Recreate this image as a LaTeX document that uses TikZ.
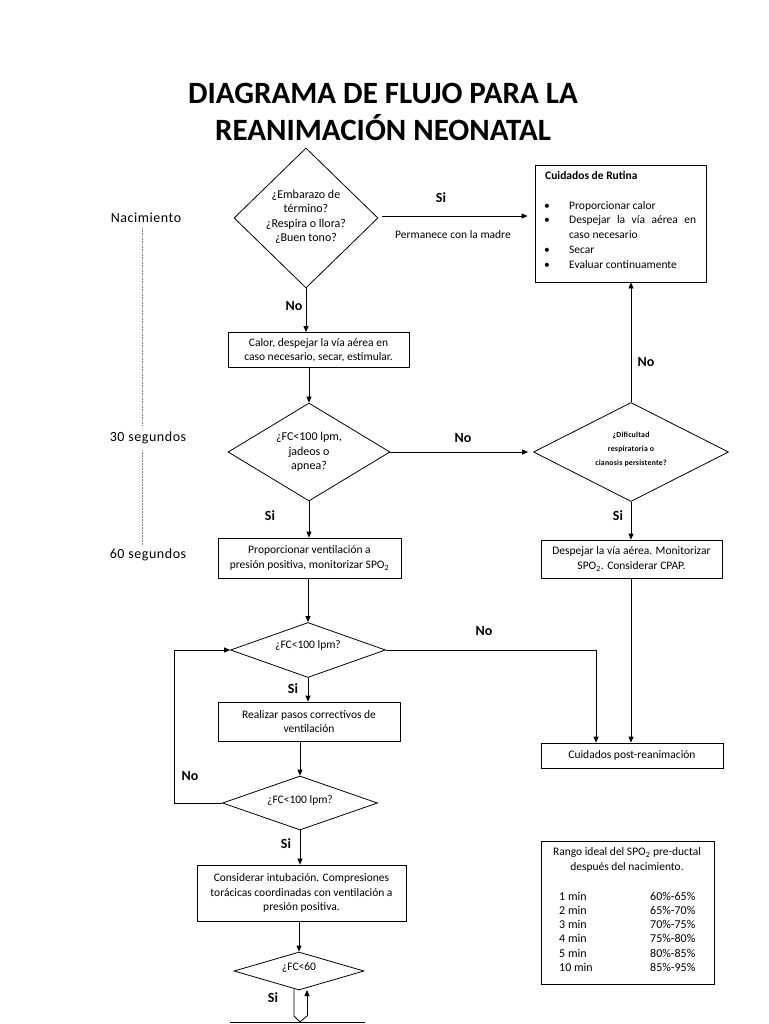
\documentclass[tikz,border=0pt]{standalone}
\usepackage{fontspec}
\setmainfont{Carlito}
\usetikzlibrary{shapes.geometric,arrows.meta}
\begin{document}
\begin{tikzpicture}[x=1pt,y=-1pt,
  box/.style={draw, line width=0.8pt, inner sep=0pt, align=center, font=\fontsize{11.5}{14.5}\selectfont},
  dia/.style={draw, diamond, line width=0.8pt, inner sep=0pt},
  arr/.style={line width=0.8pt, -{Triangle[length=6pt,width=5pt]}},
  ln/.style={line width=0.8pt},
  lab/.style={font=\fontsize{14}{16}\selectfont\bfseries, inner sep=0pt},
  txt/.style={font=\fontsize{12}{14.5}\selectfont, align=center, inner sep=0pt},
  side/.style={font=\fontsize{14}{16}\selectfont\addfontfeature{LetterSpace=4}, inner sep=0pt},
  item/.style={font=\fontsize{11.5}{14.5}\selectfont, anchor=base west, inner sep=0pt},
  titem/.style={font=\fontsize{12}{14.5}\selectfont, anchor=base west, inner sep=0pt},
  dots/.style={gray, line width=0.6pt, dash pattern=on 0.8pt off 0.8pt},
]
\useasboundingbox (0,0) rectangle (768,1024);

% title
\node[font=\fontsize{31}{37}\selectfont\bfseries, align=center, inner sep=0pt] (title) at (383,112)
  {DIAGRAMA DE FLUJO PARA LA\\REANIMACIÓN NEONATAL};

% side labels
\node[side] (nac) at (146,218) {Nacimiento};
\node[side] (s30) at (148,438) {30 segundos};
\node[side] (s60) at (148,555) {60 segundos};
\coordinate (dA) at (142,228);
\coordinate (dB) at (142,425);
\coordinate (dC) at (142,450);
\coordinate (dD) at (142,545);
\draw[dots] (dA) -- (dB);
\draw[dots] (dC) -- (dD);

% diamonds
\node[dia, minimum width=144pt, minimum height=140pt] (d1) at (306,218) {};
\node[txt] (d1t) at (306,217) {¿Embarazo de\\término?\\¿Respira o llora?\\¿Buen tono?};
\node[dia, minimum width=162pt, minimum height=98pt] (d2) at (309,452) {};
\node[txt] (d2t) at (309,452) {¿FC<100 lpm,\\jadeos o\\apnea?};
\node[dia, minimum width=195pt, minimum height=99pt] (d3) at (631,452) {};
\node[txt, font=\fontsize{7.8}{14}\selectfont\bfseries\addfontfeature{LetterSpace=3}] (d3t) at (631,449) {¿Dificultad\\respiratoria o\\cianosis persistente?};
\node[dia, minimum width=155pt, minimum height=55pt] (d4) at (308,650) {};
\node[txt, font=\fontsize{11.5}{14.5}\selectfont] (d4t) at (308,645) {¿FC<100 lpm?};
\node[dia, minimum width=155pt, minimum height=54pt] (d5) at (300,803) {};
\node[txt, font=\fontsize{11.5}{14.5}\selectfont] (d5t) at (300,800) {¿FC<100 lpm?};
\node[dia, minimum width=130pt, minimum height=38pt] (d6) at (299,971) {};
\node[txt, font=\fontsize{11.5}{14.5}\selectfont] (d6t) at (299,968) {¿FC<60};

% boxes
\node[box, minimum width=181pt, minimum height=35pt] (b1) at (318.5,350)
  {Calor, despejar la vía aérea en\\caso necesario, secar, estimular.};
\node[box, minimum width=183pt, minimum height=40pt] (b2) at (309.5,558)
  {Proporcionar ventilación a\\presión positiva, monitorizar SPO\textsubscript{2}};
\node[box, minimum width=182pt, minimum height=39pt] (b3) at (309,721.5)
  {Realizar pasos correctivos de\\ventilación};
\node[box, minimum width=209pt, minimum height=56pt] (b4) at (301.5,893)
  {Considerar intubación. Compresiones\\torácicas coordinadas con ventilación a\\presión positiva.};
\node[box, minimum width=181pt, minimum height=38pt] (bD) at (631.5,559)
  {Despejar la vía aérea. Monitorizar\\SPO\textsubscript{2}. Considerar CPAP.};
\node[box, minimum width=182pt, minimum height=25pt] (bP) at (632,755.5)
  {Cuidados post-reanimación};

% Cuidados de Rutina
\node[box, minimum width=171pt, minimum height=117pt] (bR) at (620.5,223.5) {};
\node[item, font=\fontsize{11.5}{14.5}\selectfont\bfseries] (rt) at (545,180) {Cuidados de Rutina};
\node[item] (r1b) at (544,210) {\textbullet};
\node[item] (r1) at (569,210) {Proporcionar calor};
\node[item] (r2b) at (544,224) {\textbullet};
\node[item] (r2) at (569,224) {\makebox[127pt][s]{Despejar la vía aérea en}};
\node[item] (r3) at (569,238) {caso necesario};
\node[item] (r4b) at (544,253) {\textbullet};
\node[item] (r4) at (569,253) {Secar};
\node[item] (r5b) at (544,268) {\textbullet};
\node[item] (r5) at (569,268) {Evaluar continuamente};

% Rango table
\node[box, minimum width=173pt, minimum height=143pt] (bT) at (627.5,912.5) {};
\node[txt, font=\fontsize{11.5}{14.5}\selectfont] (th) at (627,860) {Rango ideal del SPO\textsubscript{2} pre-ductal\\después del nacimiento.};
\node[titem] (t1a) at (559,900) {1 min};   \node[titem] (t1b) at (650,900) {60\%-65\%};
\node[titem] (t2a) at (559,914) {2 min};   \node[titem] (t2b) at (650,914) {65\%-70\%};
\node[titem] (t3a) at (559,928) {3 min};   \node[titem] (t3b) at (650,928) {70\%-75\%};
\node[titem] (t4a) at (559,942) {4 min};   \node[titem] (t4b) at (650,942) {75\%-80\%};
\node[titem] (t5a) at (559,957) {5 min};   \node[titem] (t5b) at (650,957) {80\%-85\%};
\node[titem] (t6a) at (559,971) {10 min};  \node[titem] (t6b) at (650,971) {85\%-95\%};

% labels
\node[lab] (lSi1) at (441,198) {Si};
\node[txt, font=\fontsize{11.5}{14.5}\selectfont] (lPerm) at (453,235) {Permanece con la madre};
\node[lab] (lNo1) at (294,306) {No};
\node[lab] (lSi2) at (270,516) {Si};
\node[lab] (lNo2) at (463,438) {No};
\node[lab] (lNo3) at (646,362) {No};
\node[lab] (lSi3) at (618,516) {Si};
\node[lab] (lNo4) at (484,631) {No};
\node[lab] (lSi4) at (293,689) {Si};
\node[lab] (lNo5) at (190,776) {No};
\node[lab] (lSi5) at (286,844) {Si};
\node[lab] (lSi6) at (273,998) {Si};

% connectors
\draw[arr] ([xshift=4pt,yshift=2pt]d1.east) -- ([xshift=-7pt,yshift=2pt]d1.east -| bR.west);
\draw[arr] (d1.south) -- (d1.south |- b1.north);
\draw[arr] (b1.south -| d2.north) -- (d2.north);
\draw[arr] (d2.south) -- (d2.south |- b2.north);
\draw[arr] (d2.east) -- ([xshift=-5pt]d3.west);
\draw[arr] (d3.north) -- (bR.south -| d3.north);
\draw[arr] (d3.south) -- (d3.south |- bD.north);
\draw[arr] (b2.south -| d4.north) -- (d4.north);
\coordinate (c4) at (596,650);
\draw[arr] (d4.east) -- (c4) -- (c4 |- bP.north);
\draw[arr] (bD.south -| d3.south) -- (bP.north -| d3.south);
\draw[arr] (d4.south) -- (d4.south |- b3.north);
\draw[arr] (b3.south -| d5.north) -- (d5.north);
\coordinate (c5) at (174,803);
\draw[arr] (d5.west) -- (c5) -- (c5 |- d4.west) -- (d4.west);
\draw[arr] (d5.south) -- (d5.south |- b4.north);
\draw[arr] (b4.south -| d6.north) -- (d6.north);

% bottom
\coordinate (u1) at (294,989);
\coordinate (u2) at (294,1016);
\coordinate (u3) at (300,1022);
\coordinate (u4) at (307,1016);
\coordinate (u5) at (307,990);
\draw[ln] (u1) -- (u2) -- (u3) -- (u4);
\draw[arr] (u4) -- (u5);
\coordinate (e1) at (230,1022.5);
\coordinate (e2) at (365,1022.5);
\draw[ln] (e1) -- (e2);
\end{tikzpicture}
\end{document}
